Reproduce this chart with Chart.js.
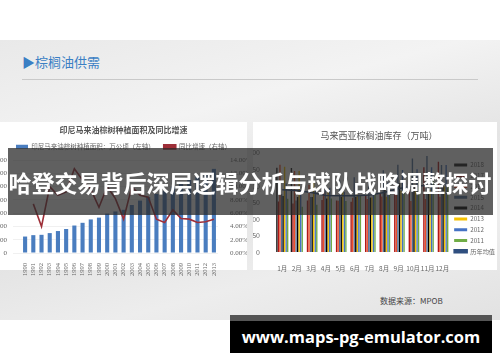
<!DOCTYPE html>
<html>
<head>
<meta charset="utf-8">
<script src="https://cdn.jsdelivr.net/npm/chart.js@4.4.0/dist/chart.umd.min.js"></script>
<style>
    body { margin: 0; width: 500px; height: 362px; position: relative; overflow: hidden; background: #fff; font-family: 'Noto Sans CJK SC', sans-serif; }
    .slide { position: absolute; left: 0; top: 40px; width: 500px; height: 280px;
        background: linear-gradient(165deg, #e9e9e9 0%, #f3f3f3 30%, #e4e4e4 55%, #ededed 75%, #e2e2e2 100%); }
    .titulo { position: absolute; left: 22px; top: 52px; font-size: 13px; color: #3b7fc4; }
    .linea { position: absolute; left: 22px; top: 79px; width: 456px; height: 1px; background: #c9c9c9; }
    .panel { position: absolute; top: 122px; height: 148px; background: #fff; }
    canvas { position: absolute; top: 0; left: 0; }
    .fuente { position: absolute; left: 380px; top: 295px; font-size: 8px; color: #444; }
    .banda { position: absolute; left: 8px; top: 148px; width: 485px; height: 67px; background: rgba(40,40,40,.74); }
    .banda-txt { position: absolute; left: 0; top: 168px; width: 500px; text-align: center; font-size: 23px; font-weight: bold; color: #fff; white-space: nowrap; line-height: 28px; }
    .marca { position: absolute; left: 230px; top: 315px; width: 262px; height: 38px; background: #000; border-top: 6px solid #555; box-sizing: border-box;
        color: #fff; font-family: 'Open Sans', sans-serif; font-weight: bold; font-size: 16.5px; text-align: center; line-height: 31px; white-space: nowrap; }
</style>
</head>
<body>
<div class="slide"></div>
<div class="titulo">▶棕榈油供需</div>
<div class="linea"></div>

<div class="panel" style="left:0;width:247px;">
    <canvas id="chartArea" width="247" height="154"></canvas>
</div>
<div class="panel" style="left:253px;width:244px;">
    <canvas id="chartStock" width="252" height="150"></canvas>
</div>

<div class="fuente">数据来源：MPOB</div>
<div class="banda"></div>
<div class="banda-txt">哈登交易背后深层逻辑分析与球队战略调整探讨</div>
<div class="marca">www.maps-pg-emulator.com</div>

<script>
// ── Datos: gráfico izquierdo ─────────────────────────────
const anios = ['1990', '1991', '1992', '1993', '1994', '1995', '1996', '1997', '1998', '1999', '2000', '2001',
    '2002', '2003', '2004', '2005', '2006', '2007', '2008', '2009', '2010', '2011', '2012', '2013'];
const superficie = [248, 269, 274, 300, 331, 362, 414, 455, 506, 533, 594, 626,
    651, 723, 790, 843, 890, 940, 1000, 1050, 1100, 1150, 1200, 1268];
const crecimiento = [null, 7.4, 4.0, 10.0, 8.7, 9.2, 12.7, 11.0, 9.6, 6.9, 10.0, 8.2,
    5.1, 10.0, 8.7, 8.4, 5.1, 4.6, 6.5, 5.2, 5.1, 4.6, 4.7, 5.1];

// ── Datos: gráfico derecho ───────────────────────────────
const meses = ['1月', '2月', '3月', '4月', '5月', '6月', '7月', '8月', '9月', '10月', '11月', '12月'];
const stock2018 = [255, 254, null, null, null, null, null, null, null, null, null, null];
const stock2017 = [153, 147, 156, 157, 156, 152, 172, 178, 202, 219, 256, 273];
const stock2016 = [264, 245, 203, 180, 155, 164, 160, 168, 173, 154, 160, 167];
const stock2015 = [175, 156, 166, 192, 216, 226, 236, 247, 264, 283, 290, 263];
const stock2014 = [169, 166, 166, 162, 167, 166, 165, 189, 208, 200, 202, 201];
const stock2013 = [258, 245, 214, 189, 183, 175, 165, 167, 185, 184, 187, 198];
const stock2012 = [207, 184, 189, 194, 182, 173, 174, 210, 248, 250, 256, 263];
const stock2011 = [161, 137, 143, 162, 154, 171, 184, 176, 201, 212, 215, 203];
const promedio = [188, 186, 180, 171, 170, 170, 172, 180, 192, 198, 202, 200];

const tickGris = '#666';
const porIndice = (a, b) => a.datasetIndex - b.datasetIndex;
// fija el ancho/alto de un eje para cuadrar el área de trazado
const ancho = w => scale => { scale.width = w; };
const alto = h => scale => { scale.height = h; };

// 1. Barras + línea: superficie y crecimiento
new Chart(document.getElementById('chartArea'), {
    type: 'bar',
    data: {
        labels: anios,
        datasets: [
            {
                label: '印尼马来油棕树种植面积：万公顷（左轴）',
                data: superficie,
                backgroundColor: '#4a7dbf',
                yAxisID: 'y',
                order: 1,
                barPercentage: 0.5,
                categoryPercentage: 1
            },
            {
                type: 'line',
                label: '同比增速（右轴）',
                data: crecimiento,
                borderColor: '#9e2f38',
                backgroundColor: '#9e2f38',
                borderWidth: 1.6,
                pointRadius: 0,
                yAxisID: 'y1',
                order: 0
            }
        ]
    },
    options: {
        responsive: false,
        animation: false,
        layout: { padding: { left: 0, right: 0, top: 2, bottom: 0 } },
        plugins: {
            title: {
                display: true,
                text: '印尼马来油棕树种植面积及同比增速',
                font: { size: 8, weight: 'bold', family: 'Noto Sans CJK SC' },
                color: '#555',
                padding: { top: 1, bottom: 0 }
            },
            legend: {
                labels: {
                    boxWidth: 12, boxHeight: 4, padding: 9, sort: porIndice,
                    font: { size: 6.5, family: 'Noto Sans CJK SC' }, color: tickGris
                }
            },
            tooltip: { enabled: false }
        },
        scales: {
            x: {
                afterFit: alto(23),
                grid: { display: false },
                border: { display: false },
                ticks: { autoSkip: false, minRotation: 90, maxRotation: 90, padding: 2, color: tickGris, font: { size: 6.5, family: 'Liberation Serif' } }
            },
            y: {
                afterFit: ancho(21),
                min: 0, max: 1400,
                grid: { color: '#f0f0f0' },
                border: { display: false },
                ticks: { stepSize: 200, padding: 6, color: tickGris, font: { size: 7, family: 'Liberation Serif' } }
            },
            y1: {
                afterFit: ancho(29),
                position: 'right',
                min: 0, max: 14,
                grid: { display: false },
                border: { display: false },
                ticks: { stepSize: 2, padding: 4, color: tickGris, font: { size: 7, family: 'Liberation Serif' },
                    callback: v => v.toFixed(2) + '%' }
            }
        }
    }
});

// 2. Barras agrupadas: inventario mensual
const serieStock = (label, data, color) => ({
    label, data, backgroundColor: color, order: 1,
    barPercentage: 0.9, categoryPercentage: 0.85
});

new Chart(document.getElementById('chartStock'), {
    type: 'bar',
    data: {
        labels: meses,
        datasets: [
            serieStock('2018', stock2018, '#1a1a1a'),
            serieStock('2017', stock2017, '#b01818'),
            serieStock('2016', stock2016, '#f0502a'),
            serieStock('2015', stock2015, '#4f6f99'),
            serieStock('2014', stock2014, '#000000'),
            serieStock('2013', stock2013, '#f5c000'),
            serieStock('2012', stock2012, '#4472c4'),
            serieStock('2011', stock2011, '#70ad47'),
            {
                type: 'line',
                label: '历年均值',
                data: promedio,
                borderColor: '#2f4f7f',
                backgroundColor: '#2f4f7f',
                borderWidth: 1.5,
                pointRadius: 0,
                order: 0
            }
        ]
    },
    options: {
        responsive: false,
        animation: false,
        layout: { padding: { left: 0, right: 0, top: 0, bottom: 0 } },
        plugins: {
            title: {
                display: true,
                text: '马来西亚棕榈油库存（万吨）',
                font: { size: 9, weight: 'normal', family: 'Noto Sans CJK SC' },
                color: '#555',
                padding: { top: 8, bottom: 12 }
            },
            legend: {
                position: 'right',
                align: 'start',
                // título vacío: solo desplaza las entradas hacia abajo
                title: { display: true, text: ' ', font: { size: 1 }, padding: { top: 19, bottom: 15 } },
                labels: {
                    boxWidth: 13, boxHeight: 3, padding: 4.6, sort: porIndice,
                    font: { size: 6.2, family: 'Noto Sans CJK SC' }, color: tickGris
                }
            },
            tooltip: { enabled: false }
        },
        scales: {
            x: {
                afterFit: alto(20),
                grid: { display: false },
                border: { display: false },
                ticks: { autoSkip: false, maxRotation: 0, padding: 5, color: tickGris, font: { size: 6.5, family: 'Noto Sans CJK SC' } }
            },
            y: {
                afterFit: ancho(22),
                min: 0, max: 300,
                grid: { display: false },
                border: { display: false },
                ticks: { stepSize: 50, padding: 7, color: tickGris, font: { size: 7, family: 'Noto Sans CJK SC' } }
            }
        }
    }
});
</script>
</body>
</html>
